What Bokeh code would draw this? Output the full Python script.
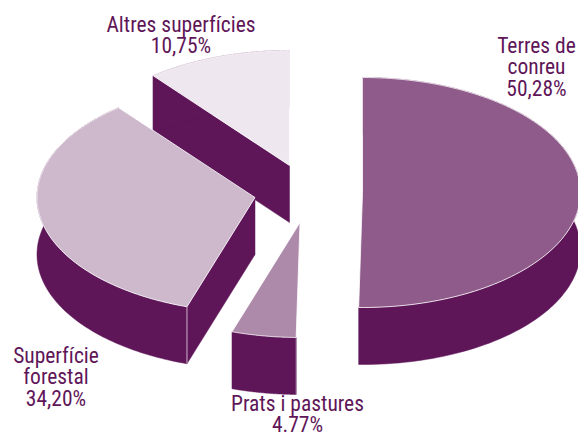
import numpy as np
from bokeh.plotting import figure
from bokeh.models import Range1d
from bokeh.core.properties import value
from bokeh.embed import file_html
from bokeh.resources import INLINE

# Data
categories = ["Terres de conreu", "Prats i pastures", "Superfície forestal", "Altres superfícies"]
shares = [50.28, 4.77, 34.20, 10.75]

# Label text
label_lines = [["Terres de", "conreu", "50,28%"], ["Prats i pastures", "4.77%"],
               ["Superfície", "forestal", "34,20%"], ["Altres superfícies", "10,75%"]]

# Layout and style (pixel space of the reference)
apex = [(362, 192), (299.5, 222), (254.5, 197), (289, 165)]
label_x = [536, 297, 55.5, 180.5]
label_y = [45, 403, 355, 24]
line_step = 21.3
top_colors = ["#8f5b8a", "#ae8aaa", "#cdb8cc", "#efe7ef"]
wall_color = "#5f1659"
RX, RY, DEPTH = 218, 115, 57
draw_order = [3, 2, 0, 1]

p = figure(width=578, height=436, output_backend="svg", toolbar_location=None,
           x_range=Range1d(0, 578), y_range=Range1d(436, 0), min_border=0)
p.axis.visible = False
p.grid.visible = False
p.outline_line_color = None
p.background_fill_color = "white"

edges = np.concatenate([[0], np.cumsum(shares)]) / np.sum(shares) * 2 * np.pi

for i in draw_order:
    cx, cy = apex[i]
    th = np.linspace(edges[i], edges[i + 1], 120)
    ax = cx + RX * np.sin(th)
    ay = cy - RY * np.cos(th)
    # side walls, only where they clearly face the viewer
    for k, facing in ((0, -np.sin(th[0])), (-1, np.sin(th[-1]))):
        if facing > 0.1:
            p.patch([cx, ax[k], ax[k], cx], [cy, ay[k], ay[k] + DEPTH, cy + DEPTH],
                    fill_color=wall_color, line_color=wall_color, line_width=0.5)
    # outer wall
    p.patch(np.concatenate([ax, ax[::-1]]), np.concatenate([ay, ay[::-1] + DEPTH]),
            fill_color=wall_color, line_color=wall_color, line_width=0.5)
    # corner highlights on front-facing starts
    if np.sin(edges[i]) < 0 and np.cos(edges[i]) < 0 or i == 1:
        p.line([ax[0], ax[0]], [ay[0], ay[0] + DEPTH], line_color=top_colors[i], line_width=1)
    # top face
    p.patch(np.concatenate([[cx], ax]), np.concatenate([[cy], ay]),
            fill_color=top_colors[i], line_color="white", line_width=0.8)

for i, lines in enumerate(label_lines):
    ys = [label_y[i] + n * line_step for n in range(len(lines))]
    p.text([label_x[i]] * len(lines), ys, text=lines, text_align="center",
           text_baseline="alphabetic", text_color=wall_color,
           text_font=value("Roboto Condensed"), text_font_size="21.5px")

open("out.html", "w").write(file_html(p, INLINE))
